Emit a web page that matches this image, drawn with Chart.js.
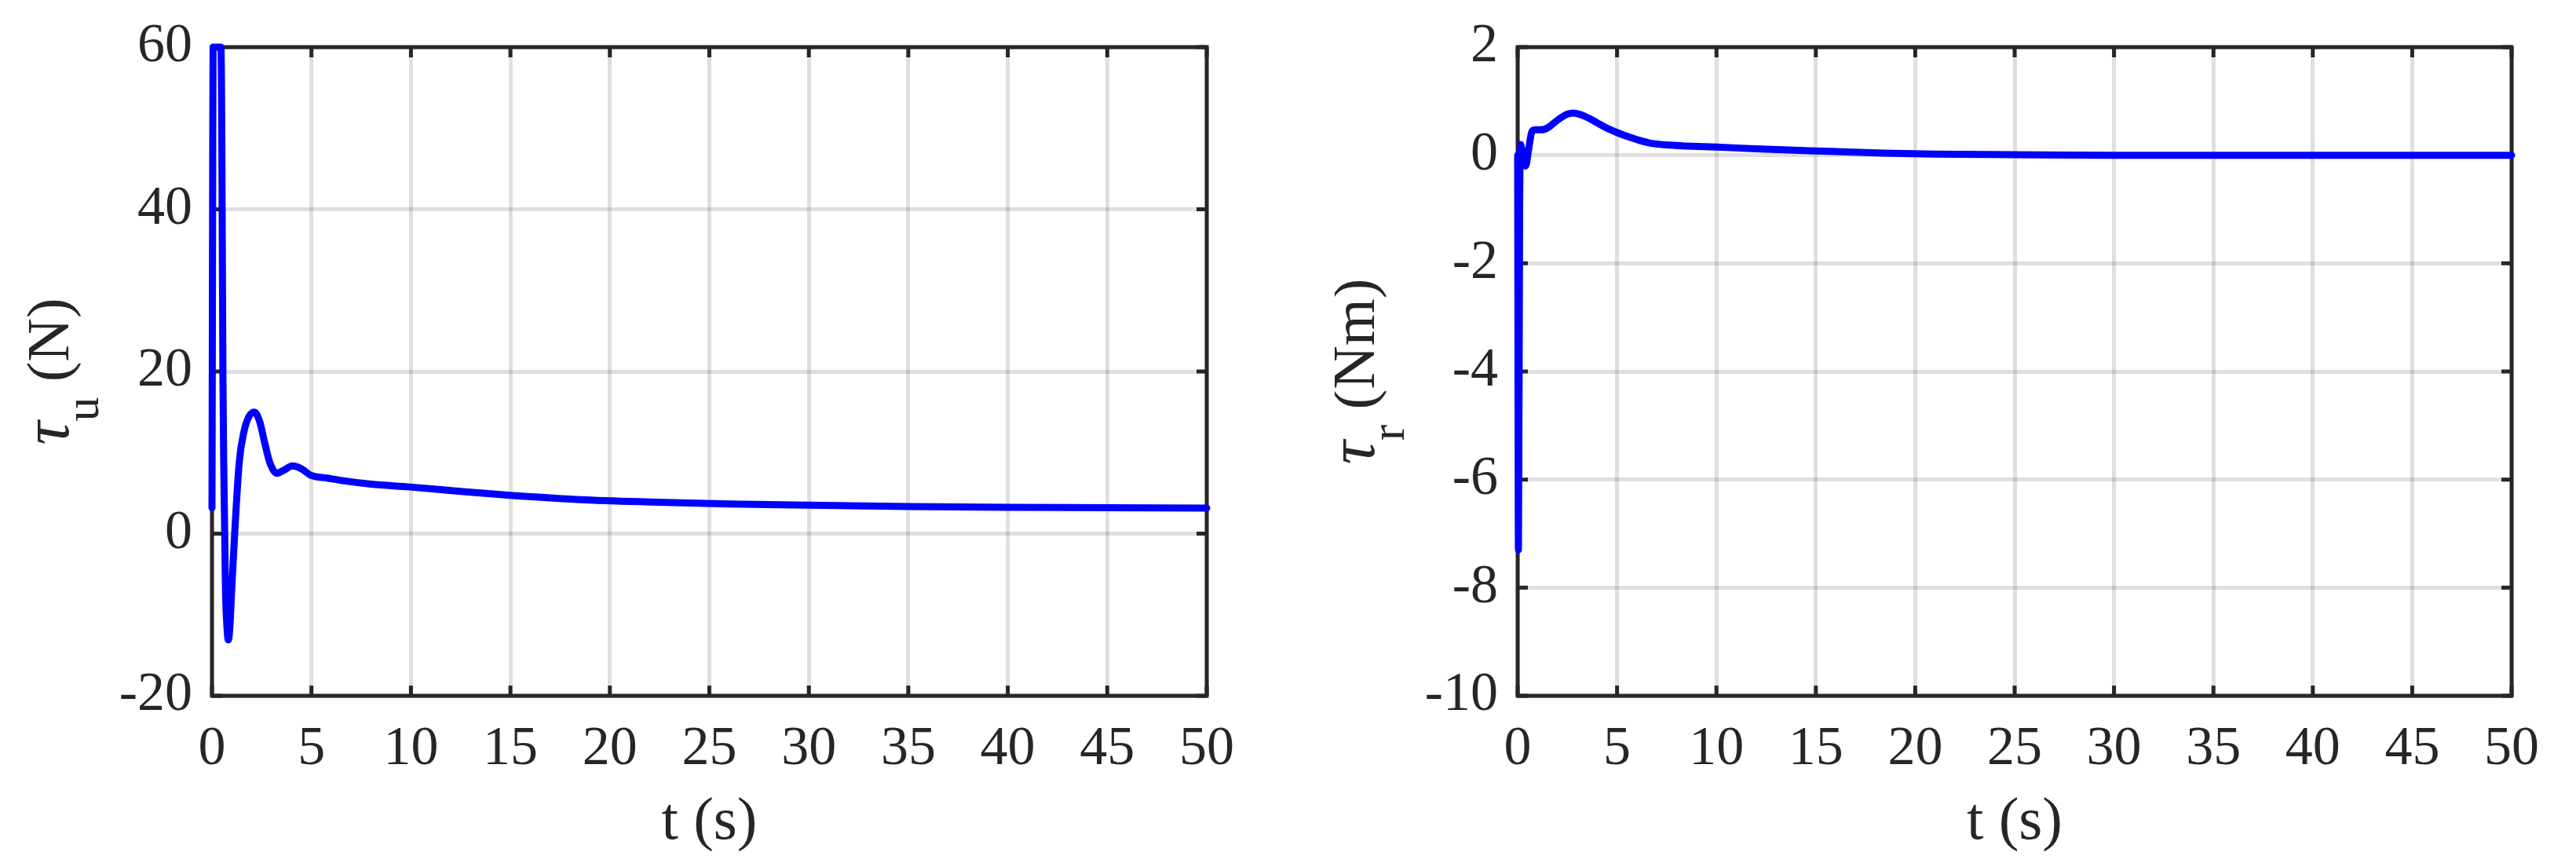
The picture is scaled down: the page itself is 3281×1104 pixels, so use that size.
<!DOCTYPE html>
<html>
<head>
<meta charset="utf-8">
<script src="https://cdn.jsdelivr.net/npm/chart.js@4.4.1/dist/chart.umd.min.js"></script>
<style>
  html, body { margin: 0; padding: 0; background: #fff; }
  body { width: 3281px; height: 1104px; position: relative; overflow: hidden; }
  canvas { position: absolute; top: 0; }
  #left { left: 0; }
  #right { left: 1700px; }
</style>
</head>
<body>
<canvas id="left" width="1700" height="1104"></canvas>
<canvas id="right" width="1581" height="1104"></canvas>
<script>
// surge force tau_u (N) vs time (s)
const tU = [0, 0.06, 0.45, 0.49, 0.52, 0.55, 0.59, 0.64, 0.68, 0.75, 0.82, 0.9, 0.99, 1.14, 1.37, 1.6, 1.85, 2.13, 2.4, 2.65, 2.9, 3.25, 3.6, 4.04, 4.5, 4.96, 5.8, 6.67, 8, 9.96, 12.5, 15, 18.5, 22, 26, 30, 35, 40, 45, 50];
const tauU = [3.2, 60, 60, 51, 35, 19.5, 8.8, 0, -7, -11.4, -13.1, -11.5, -7, 0, 8.8, 12.5, 14.4, 15, 13.8, 11.2, 8.8, 7.45, 7.8, 8.35, 8.0, 7.2, 6.85, 6.5, 6.1, 5.75, 5.2, 4.73, 4.2, 3.9, 3.65, 3.5, 3.35, 3.25, 3.2, 3.15];

// yaw moment tau_r (Nm) vs time (s)
const tR = [0, 0.04, 0.1, 0.15, 0.25, 0.4, 0.55, 0.7, 0.85, 1.1, 1.35, 1.6, 1.9, 2.2, 2.5, 2.8, 3.1, 3.5, 4.0, 4.5, 5.0, 5.5, 6.0, 6.6, 7.5, 8.5, 10, 12, 15, 18.4, 21, 25, 30, 40, 50];
const tauR = [0, -7.3, -1.0, 0.2, 0.0, -0.2, 0.1, 0.42, 0.47, 0.47, 0.48, 0.53, 0.62, 0.7, 0.76, 0.78, 0.76, 0.7, 0.6, 0.5, 0.42, 0.35, 0.29, 0.23, 0.19, 0.17, 0.15, 0.12, 0.08, 0.04, 0.02, 0.01, 0, 0, 0];

const xTicks = [0, 5, 10, 15, 20, 25, 30, 35, 40, 45, 50];
const yTicksU = [-20, 0, 20, 40, 60];
const yTicksR = [-10, -8, -6, -4, -2, 0, 2];

const INK = '#262626';
const GRID = 'rgba(38,38,38,0.15)';
const FONT = "'Liberation Serif', 'Times New Roman', serif";
const TICK = 13;

// matlab style box: frame on all sides, ticks pointing in, y label with subscript
const axesBox = {
    id: 'axesBox',
    beforeDatasetsDraw(chart) {
        const { ctx, chartArea: a, scales: { x, y } } = chart;
        ctx.save();
        ctx.strokeStyle = INK;
        ctx.lineWidth = 5;
        ctx.beginPath();
        x.ticks.forEach(t => {
            const px = x.getPixelForValue(t.value);
            ctx.moveTo(px, a.bottom); ctx.lineTo(px, a.bottom - TICK);
            ctx.moveTo(px, a.top); ctx.lineTo(px, a.top + TICK);
        });
        y.ticks.forEach(t => {
            const py = y.getPixelForValue(t.value);
            ctx.moveTo(a.left, py); ctx.lineTo(a.left + TICK, py);
            ctx.moveTo(a.right, py); ctx.lineTo(a.right - TICK, py);
        });
        ctx.stroke();
        ctx.lineJoin = 'miter';
        ctx.strokeRect(a.left, a.top, a.right - a.left, a.bottom - a.top);
        ctx.restore();
    },
    afterDraw(chart, args, opts) {
        const { ctx, chartArea: a } = chart;
        const sym = `italic 84px ${FONT}`, big = `77px ${FONT}`, small = `62px ${FONT}`;
        ctx.save();
        ctx.fillStyle = INK;
        ctx.textBaseline = 'alphabetic';
        ctx.textAlign = 'left';
        ctx.translate(a.left - 183, (a.top + a.bottom) / 2);
        ctx.rotate(-Math.PI / 2);
        ctx.font = sym;
        const w1 = ctx.measureText(opts.sym).width;
        ctx.font = big;
        const w3 = ctx.measureText(opts.unit).width;
        ctx.font = small;
        const w2 = ctx.measureText(opts.sub).width;
        let x0 = -(w1 + w2 + w3) / 2;
        ctx.font = sym;
        ctx.fillText(opts.sym, x0, 0);
        ctx.font = small;
        ctx.fillText(opts.sub, x0 + w1, 38);
        ctx.font = big;
        ctx.fillText(opts.unit, x0 + w1 + w2, 0);
        ctx.restore();
    }
};

function makeChart(id, t, v, yTicks, label, padRight, yWidth) {
    return new Chart(document.getElementById(id), {
        type: 'line',
        data: {
            datasets: [{
                data: t.map((x, i) => ({ x, y: v[i] })),
                borderColor: '#0000ff',
                borderWidth: 9,
                pointRadius: 0,
                cubicInterpolationMode: 'monotone',
                borderJoinStyle: 'round',
                borderCapStyle: 'round',
                clip: 10,
                fill: false
            }]
        },
        options: {
            responsive: false,
            animation: false,
            layout: { padding: { top: 40, right: padRight, left: 0, bottom: 0 } },
            plugins: { legend: { display: false }, tooltip: { enabled: false }, axesBox: label },
            scales: {
                x: {
                    type: 'linear', min: xTicks[0], max: xTicks[xTicks.length - 1],
                    afterBuildTicks: s => { s.ticks = xTicks.map(value => ({ value })); },
                    afterFit: s => { s.height = 218; },
                    grid: { color: GRID, lineWidth: 5, drawTicks: false },
                    border: { display: false },
                    ticks: { color: INK, font: { family: FONT, size: 70, lineHeight: 1 }, padding: 34, maxRotation: 0, autoSkip: false, callback: val => String(val) },
                    title: { display: true, text: 't (s)', color: INK, font: { family: FONT, size: 77, lineHeight: 1 }, padding: { top: 0, bottom: 18 } }
                },
                y: {
                    type: 'linear', min: yTicks[0], max: yTicks[yTicks.length - 1],
                    afterBuildTicks: s => { s.ticks = yTicks.map(value => ({ value })); },
                    afterFit: s => { s.width = yWidth; },
                    grid: { color: GRID, lineWidth: 5, drawTicks: false },
                    border: { display: false },
                    ticks: { color: INK, font: { family: FONT, size: 70, lineHeight: 1 }, padding: 25, autoSkip: false, callback: val => String(val) }
                }
            }
        },
        plugins: [axesBox]
    });
}

makeChart('left', tU, tauU, yTicksU, { sym: 'τ', sub: 'u', unit: ' (N)' }, 163, 270);
makeChart('right', tR, tauR, yTicksR, { sym: 'τ', sub: 'r', unit: ' (Nm)' }, 82, 233);
</script>
</body>
</html>
